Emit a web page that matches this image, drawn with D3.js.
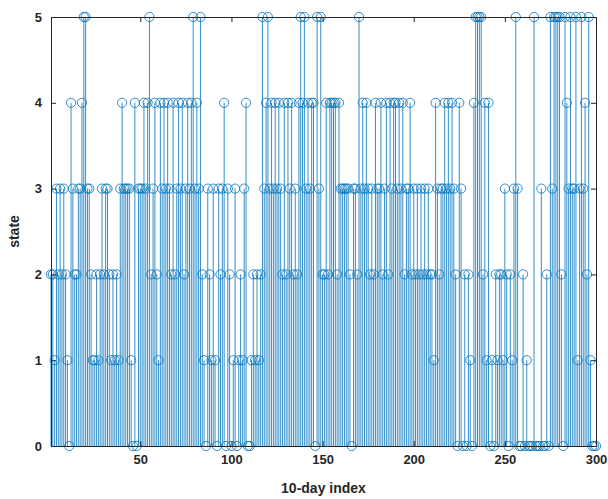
<!DOCTYPE html>
<html>
<head>
<meta charset="utf-8">
<script src="https://cdn.jsdelivr.net/npm/d3@7"></script>
<style>
  body { margin: 0; background: #fff; }
  text { font-family: "Liberation Sans", Arial, sans-serif; }
</style>
</head>
<body>
<div id="chart"></div>
<script>
// state for each 10-day index (1..300)
var states = [
  2,2,1,3,2,3,2,3,2,1, 0,4,3,2,2,3,3,4,5,5, 3,3,2,1,1,2,1,2,3,2,
  3,3,2,1,2,1,2,1,3,4, 3,3,3,3,1,0,4,0,3,3, 3,4,3,4,5,2,3,4,2,1,
  4,3,4,3,4,3,2,4,2,3, 4,3,4,2,3,4,3,4,5,3, 4,3,5,2,1,0,3,2,1,3,
  1,0,3,2,3,4,0,3,2,0, 1,3,0,1,2,1,3,4,0,0, 1,2,1,2,1,2,5,3,4,5,
  3,4,3,4,3,4,3,2,4,2, 4,3,4,2,3,2,4,5,4,5, 3,4,3,4,4,0,5,3,5,2,
  2,4,2,4,4,4,4,2,4,3, 3,3,3,3,2,0,3,3,2,5, 3,4,3,4,3,2,3,2,4,3,
  3,4,2,3,4,2,4,3,4,4, 3,4,3,4,2,3,3,4,2,3, 2,3,2,3,2,3,2,3,2,2,
  1,4,3,2,3,3,4,3,4,3, 4,3,2,0,4,3,0,2,0,2, 1,0,4,5,5,5,5,2,4,1,
  4,0,1,0,2,1,2,2,1,3, 2,0,2,1,3,5,3,0,0,2, 0,1,0,0,0,5,0,0,0,3,
  0,0,2,0,5,3,5,5,5,5, 2,0,5,4,3,5,3,3,5,1, 3,5,3,4,2,5,1,0,0,0
];
var xTicks = [50, 100, 150, 200, 250, 300];
var yTicks = [0, 1, 2, 3, 4, 5];

var data = states.map(function (v, i) { return { idx: i + 1, state: v }; });

var margin = { top: 17, right: 12, bottom: 53, left: 51 },
    width = 608 - margin.left - margin.right,
    height = 499 - margin.top - margin.bottom;

var svg = d3.select("#chart")
    .append("svg")
    .attr("width", 608)
    .attr("height", 499)
    .append("g")
    .attr("transform", "translate(" + margin.left + "," + margin.top + ")");

var x = d3.scaleLinear().domain([1, 300]).range([0, width]);
var y = d3.scaleLinear().domain([0, 5]).range([height, 0]);

var blue = "#0072BD";

// stems
svg.selectAll("line.stem")
    .data(data)
    .enter()
    .append("line")
    .attr("class", "stem")
    .attr("x1", function (d) { return x(d.idx); })
    .attr("x2", function (d) { return x(d.idx); })
    .attr("y1", y(0))
    .attr("y2", function (d) { return y(d.state); })
    .attr("stroke", blue)
    .attr("stroke-width", 0.8);

// markers
svg.selectAll("circle.mk")
    .data(data)
    .enter()
    .append("circle")
    .attr("class", "mk")
    .attr("cx", function (d) { return x(d.idx); })
    .attr("cy", function (d) { return y(d.state); })
    .attr("r", 4.6)
    .attr("fill", "none")
    .attr("stroke", blue)
    .attr("stroke-width", 0.8);

// axes, MATLAB style: ticks inside, box on
var tl = 5;
var xb = svg.append("g")
    .attr("transform", "translate(0," + height + ")")
    .call(d3.axisBottom(x).tickValues(xTicks).tickSizeInner(-tl).tickSizeOuter(0).tickPadding(9));
var xt = svg.append("g")
    .call(d3.axisTop(x).tickValues(xTicks).tickSizeInner(-tl).tickSizeOuter(0).tickFormat(""));
var yl = svg.append("g")
    .call(d3.axisLeft(y).tickValues(yTicks).tickFormat(d3.format("d"))
        .tickSizeInner(-tl).tickSizeOuter(0).tickPadding(9));
var yr = svg.append("g")
    .attr("transform", "translate(" + width + ",0)")
    .call(d3.axisRight(y).tickValues(yTicks).tickSizeInner(-tl).tickSizeOuter(0).tickFormat(""));

[xb, xt, yl, yr].forEach(function (g) {
    g.select(".domain").attr("stroke", "#262626").attr("stroke-width", 1);
    g.selectAll(".tick line").attr("stroke", "#262626");
    g.selectAll("text")
        .attr("fill", "#262626")
        .style("font-size", "13px")
        .style("font-weight", "bold");
});

// axis labels
svg.append("text")
    .attr("x", width / 2)
    .attr("y", height + 47)
    .attr("text-anchor", "middle")
    .attr("fill", "#262626")
    .style("font-size", "14px")
    .style("font-weight", "bold")
    .text("10-day index");

svg.append("text")
    .attr("transform", "translate(-32," + (height / 2) + ")rotate(-90)")
    .attr("text-anchor", "middle")
    .attr("fill", "#262626")
    .style("font-size", "14px")
    .style("font-weight", "bold")
    .text("state");
</script>
</body>
</html>
